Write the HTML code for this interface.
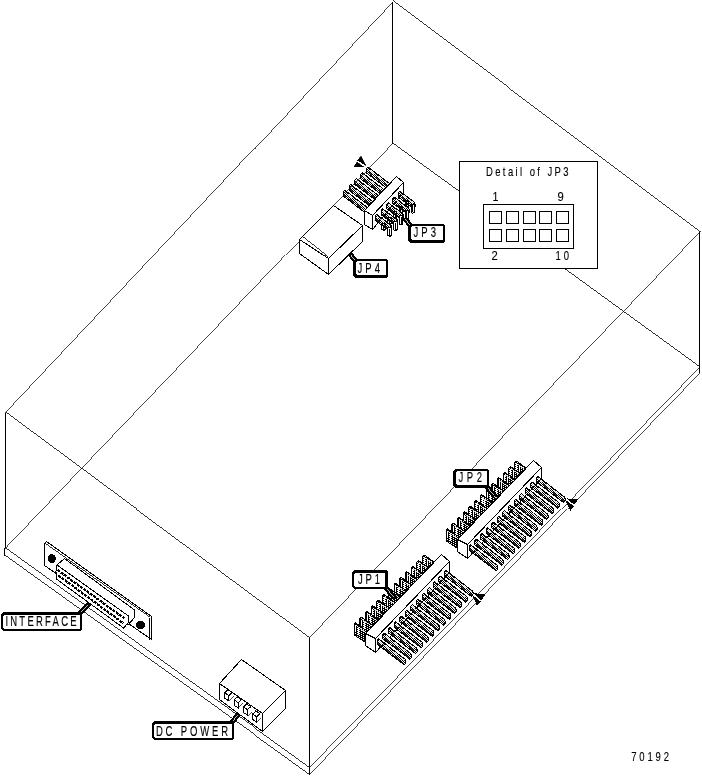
<!DOCTYPE html>
<html><head><meta charset="utf-8"><style>
html,body{margin:0;padding:0;background:#fff;}
svg{display:block;will-change:transform;}
text{font-family:"Liberation Sans",sans-serif;font-size:12.5px;fill:#000;stroke:#000;stroke-width:0.12px;}
</style></head><body>
<svg width="702" height="776" viewBox="0 0 702 776" shape-rendering="crispEdges">
<defs>
<pattern id="st" width="2" height="2" patternUnits="userSpaceOnUse"><rect x="0" y="0" width="1" height="1" fill="#000"/><rect x="1" y="1" width="1" height="1" fill="#000"/></pattern>
<pattern id="dk" width="4" height="2" patternUnits="userSpaceOnUse"><rect x="0" y="0" width="4" height="2" fill="#000"/><rect x="1" y="0" width="1" height="1" fill="#fff"/><rect x="3" y="1" width="1" height="1" fill="#fff"/></pattern>
<filter id="th" x="-10%" y="-30%" width="120%" height="160%"><feComponentTransfer><feFuncA type="discrete" tableValues="0 1"/></feComponentTransfer></filter>
</defs>
<rect width="702" height="776" fill="#fff"/>
<g stroke="#000" fill="none">
<line x1="392.5" y1="1.5" x2="5.5" y2="412.5" stroke-width="0.73"/>
<line x1="392.5" y1="0.9" x2="699.5" y2="231.1" stroke-width="0.8"/>
<line x1="5.5" y1="412.5" x2="309.5" y2="637.5" stroke-width="0.8"/>
<line x1="700.7" y1="231.1" x2="309.5" y2="637.5" stroke-width="0.72"/>
<line x1="392.5" y1="1.5" x2="392.5" y2="143.5" stroke-width="1"/>
<line x1="391.8" y1="143.5" x2="5.1" y2="548.5" stroke-width="0.72"/>
<line x1="392.5" y1="143.5" x2="699.5" y2="366.5" stroke-width="0.81"/>
<line x1="5.5" y1="548.5" x2="309.5" y2="767.5" stroke-width="0.81"/>
<line x1="4.5" y1="555.5" x2="309.5" y2="774.5" stroke-width="0.81"/>
<line x1="699.5" y1="366.5" x2="309.5" y2="767.5" stroke-width="0.72"/>
<line x1="699.5" y1="372.5" x2="309.5" y2="774.5" stroke-width="0.72"/>
<line x1="699.5" y1="231.5" x2="699.5" y2="372.5" stroke-width="1"/>
<line x1="309.5" y1="637.5" x2="309.5" y2="774.5" stroke-width="1"/>
<line x1="5.5" y1="412.5" x2="5.5" y2="547.5" stroke-width="1"/>
<line x1="4.5" y1="547.5" x2="4.5" y2="555.5" stroke-width="1"/>
<polygon points="516,460.8 528,469.3 528,481.8 514.5,472.8 514.5,462.3" fill="url(#dk)" stroke="#000" stroke-width="1"/>
<line x1="516.2" y1="463.3" x2="525.5" y2="469.8" stroke-width="0.82" stroke="#fff"/>
<line x1="516.2" y1="463.8" x2="516.2" y2="469.8" stroke-width="1" stroke="#fff"/>
<line x1="519" y1="465.8" x2="519" y2="472.8" stroke-width="1" stroke="#fff"/>
<polygon points="510.3,466.47 522.3,474.97 522.3,487.47 508.8,478.47 508.8,467.97" fill="url(#dk)" stroke="#000" stroke-width="1"/>
<line x1="510.5" y1="468.97" x2="519.8" y2="475.47" stroke-width="0.82" stroke="#fff"/>
<line x1="510.5" y1="469.47" x2="510.5" y2="475.47" stroke-width="1" stroke="#fff"/>
<line x1="513.3" y1="471.47" x2="513.3" y2="478.47" stroke-width="1" stroke="#fff"/>
<polygon points="504.6,472.14 516.6,480.64 516.6,493.14 503.1,484.14 503.1,473.64" fill="url(#dk)" stroke="#000" stroke-width="1"/>
<line x1="504.8" y1="474.64" x2="514.1" y2="481.14" stroke-width="0.82" stroke="#fff"/>
<line x1="504.8" y1="475.14" x2="504.8" y2="481.14" stroke-width="1" stroke="#fff"/>
<line x1="507.6" y1="477.14" x2="507.6" y2="484.14" stroke-width="1" stroke="#fff"/>
<polygon points="498.9,477.81 510.9,486.31 510.9,498.81 497.4,489.81 497.4,479.31" fill="url(#dk)" stroke="#000" stroke-width="1"/>
<line x1="499.1" y1="480.31" x2="508.4" y2="486.81" stroke-width="0.82" stroke="#fff"/>
<line x1="499.1" y1="480.81" x2="499.1" y2="486.81" stroke-width="1" stroke="#fff"/>
<line x1="501.9" y1="482.81" x2="501.9" y2="489.81" stroke-width="1" stroke="#fff"/>
<polygon points="493.2,483.48 505.2,491.98 505.2,504.48 491.7,495.48 491.7,484.98" fill="url(#dk)" stroke="#000" stroke-width="1"/>
<line x1="493.4" y1="485.98" x2="502.7" y2="492.48" stroke-width="0.82" stroke="#fff"/>
<line x1="493.4" y1="486.48" x2="493.4" y2="492.48" stroke-width="1" stroke="#fff"/>
<line x1="496.2" y1="488.48" x2="496.2" y2="495.48" stroke-width="1" stroke="#fff"/>
<polygon points="487.5,489.15 499.5,497.65 499.5,510.15 486,501.15 486,490.65" fill="url(#dk)" stroke="#000" stroke-width="1"/>
<line x1="487.7" y1="491.65" x2="497" y2="498.15" stroke-width="0.82" stroke="#fff"/>
<line x1="487.7" y1="492.15" x2="487.7" y2="498.15" stroke-width="1" stroke="#fff"/>
<line x1="490.5" y1="494.15" x2="490.5" y2="501.15" stroke-width="1" stroke="#fff"/>
<polygon points="481.8,494.82 493.8,503.32 493.8,515.82 480.3,506.82 480.3,496.32" fill="url(#dk)" stroke="#000" stroke-width="1"/>
<line x1="482" y1="497.32" x2="491.3" y2="503.82" stroke-width="0.82" stroke="#fff"/>
<line x1="482" y1="497.82" x2="482" y2="503.82" stroke-width="1" stroke="#fff"/>
<line x1="484.8" y1="499.82" x2="484.8" y2="506.82" stroke-width="1" stroke="#fff"/>
<polygon points="476.1,500.49 488.1,508.99 488.1,521.49 474.6,512.49 474.6,501.99" fill="url(#dk)" stroke="#000" stroke-width="1"/>
<line x1="476.3" y1="502.99" x2="485.6" y2="509.49" stroke-width="0.82" stroke="#fff"/>
<line x1="476.3" y1="503.49" x2="476.3" y2="509.49" stroke-width="1" stroke="#fff"/>
<line x1="479.1" y1="505.49" x2="479.1" y2="512.49" stroke-width="1" stroke="#fff"/>
<polygon points="470.4,506.16 482.4,514.66 482.4,527.16 468.9,518.16 468.9,507.66" fill="url(#dk)" stroke="#000" stroke-width="1"/>
<line x1="470.6" y1="508.66" x2="479.9" y2="515.16" stroke-width="0.82" stroke="#fff"/>
<line x1="470.6" y1="509.16" x2="470.6" y2="515.16" stroke-width="1" stroke="#fff"/>
<line x1="473.4" y1="511.16" x2="473.4" y2="518.16" stroke-width="1" stroke="#fff"/>
<polygon points="464.7,511.83 476.7,520.33 476.7,532.83 463.2,523.83 463.2,513.33" fill="url(#dk)" stroke="#000" stroke-width="1"/>
<line x1="464.9" y1="514.33" x2="474.2" y2="520.83" stroke-width="0.82" stroke="#fff"/>
<line x1="464.9" y1="514.83" x2="464.9" y2="520.83" stroke-width="1" stroke="#fff"/>
<line x1="467.7" y1="516.83" x2="467.7" y2="523.83" stroke-width="1" stroke="#fff"/>
<polygon points="459,517.5 471,526 471,538.5 457.5,529.5 457.5,519" fill="url(#dk)" stroke="#000" stroke-width="1"/>
<line x1="459.2" y1="520" x2="468.5" y2="526.5" stroke-width="0.82" stroke="#fff"/>
<line x1="459.2" y1="520.5" x2="459.2" y2="526.5" stroke-width="1" stroke="#fff"/>
<line x1="462" y1="522.5" x2="462" y2="529.5" stroke-width="1" stroke="#fff"/>
<polygon points="453.3,523.17 465.3,531.67 465.3,544.17 451.8,535.17 451.8,524.67" fill="url(#dk)" stroke="#000" stroke-width="1"/>
<line x1="453.5" y1="525.67" x2="462.8" y2="532.17" stroke-width="0.82" stroke="#fff"/>
<line x1="453.5" y1="526.17" x2="453.5" y2="532.17" stroke-width="1" stroke="#fff"/>
<line x1="456.3" y1="528.17" x2="456.3" y2="535.17" stroke-width="1" stroke="#fff"/>
<polygon points="447.6,528.84 459.6,537.34 459.6,549.84 446.1,540.84 446.1,530.34" fill="url(#dk)" stroke="#000" stroke-width="1"/>
<line x1="447.8" y1="531.34" x2="457.1" y2="537.84" stroke-width="0.82" stroke="#fff"/>
<line x1="447.8" y1="531.84" x2="447.8" y2="537.84" stroke-width="1" stroke="#fff"/>
<line x1="450.6" y1="533.84" x2="450.6" y2="540.84" stroke-width="1" stroke="#fff"/>
<polygon points="533.5,460.5 541.5,467.5 467.5,544.5 457.5,539.5" fill="#fff" stroke="#000" stroke-width="1"/>
<polygon points="457.5,539.5 467.5,544.5 467.5,558.5 457.5,551.5" fill="#fff" stroke="#000" stroke-width="1"/>
<polygon points="467.5,544.5 541.5,467.5 541.5,478.5 467.5,558.5" fill="#fff" stroke="#000" stroke-width="1"/>
<polygon points="536.5,478 538,476.5 564.5,497 565,498.5 565,501 563.5,502.5 536.5,482" fill="url(#st)" stroke="#000" stroke-width="1"/>
<line x1="538" y1="478.6" x2="563.5" y2="497.5" stroke-width="0.8" stroke="#fff"/>
<line x1="537.5" y1="481" x2="563.5" y2="501.5" stroke-width="0.79"/>
<polygon points="530.9,483.7 532.4,482.2 558.9,502.7 559.4,504.2 559.4,506.7 557.9,508.2 530.9,487.7" fill="url(#st)" stroke="#000" stroke-width="1"/>
<line x1="532.4" y1="484.3" x2="557.9" y2="503.2" stroke-width="0.8" stroke="#fff"/>
<line x1="531.9" y1="486.7" x2="557.9" y2="507.2" stroke-width="0.79"/>
<polygon points="525.3,489.4 526.8,487.9 553.3,508.4 553.8,509.9 553.8,512.4 552.3,513.9 525.3,493.4" fill="url(#st)" stroke="#000" stroke-width="1"/>
<line x1="526.8" y1="490" x2="552.3" y2="508.9" stroke-width="0.8" stroke="#fff"/>
<line x1="526.3" y1="492.4" x2="552.3" y2="512.9" stroke-width="0.79"/>
<polygon points="519.7,495.1 521.2,493.6 547.7,514.1 548.2,515.6 548.2,518.1 546.7,519.6 519.7,499.1" fill="url(#st)" stroke="#000" stroke-width="1"/>
<line x1="521.2" y1="495.7" x2="546.7" y2="514.6" stroke-width="0.8" stroke="#fff"/>
<line x1="520.7" y1="498.1" x2="546.7" y2="518.6" stroke-width="0.79"/>
<polygon points="514.1,500.8 515.6,499.3 542.1,519.8 542.6,521.3 542.6,523.8 541.1,525.3 514.1,504.8" fill="url(#st)" stroke="#000" stroke-width="1"/>
<line x1="515.6" y1="501.4" x2="541.1" y2="520.3" stroke-width="0.8" stroke="#fff"/>
<line x1="515.1" y1="503.8" x2="541.1" y2="524.3" stroke-width="0.79"/>
<polygon points="508.5,506.5 510,505 536.5,525.5 537,527 537,529.5 535.5,531 508.5,510.5" fill="url(#st)" stroke="#000" stroke-width="1"/>
<line x1="510" y1="507.1" x2="535.5" y2="526" stroke-width="0.8" stroke="#fff"/>
<line x1="509.5" y1="509.5" x2="535.5" y2="530" stroke-width="0.79"/>
<polygon points="502.9,512.2 504.4,510.7 530.9,531.2 531.4,532.7 531.4,535.2 529.9,536.7 502.9,516.2" fill="url(#st)" stroke="#000" stroke-width="1"/>
<line x1="504.4" y1="512.8" x2="529.9" y2="531.7" stroke-width="0.8" stroke="#fff"/>
<line x1="503.9" y1="515.2" x2="529.9" y2="535.7" stroke-width="0.79"/>
<polygon points="497.3,517.9 498.8,516.4 525.3,536.9 525.8,538.4 525.8,540.9 524.3,542.4 497.3,521.9" fill="url(#st)" stroke="#000" stroke-width="1"/>
<line x1="498.8" y1="518.5" x2="524.3" y2="537.4" stroke-width="0.8" stroke="#fff"/>
<line x1="498.3" y1="520.9" x2="524.3" y2="541.4" stroke-width="0.79"/>
<polygon points="491.7,523.6 493.2,522.1 519.7,542.6 520.2,544.1 520.2,546.6 518.7,548.1 491.7,527.6" fill="url(#st)" stroke="#000" stroke-width="1"/>
<line x1="493.2" y1="524.2" x2="518.7" y2="543.1" stroke-width="0.8" stroke="#fff"/>
<line x1="492.7" y1="526.6" x2="518.7" y2="547.1" stroke-width="0.79"/>
<polygon points="486.1,529.3 487.6,527.8 514.1,548.3 514.6,549.8 514.6,552.3 513.1,553.8 486.1,533.3" fill="url(#st)" stroke="#000" stroke-width="1"/>
<line x1="487.6" y1="529.9" x2="513.1" y2="548.8" stroke-width="0.8" stroke="#fff"/>
<line x1="487.1" y1="532.3" x2="513.1" y2="552.8" stroke-width="0.79"/>
<polygon points="480.5,535 482,533.5 508.5,554 509,555.5 509,558 507.5,559.5 480.5,539" fill="url(#st)" stroke="#000" stroke-width="1"/>
<line x1="482" y1="535.6" x2="507.5" y2="554.5" stroke-width="0.8" stroke="#fff"/>
<line x1="481.5" y1="538" x2="507.5" y2="558.5" stroke-width="0.79"/>
<polygon points="474.9,540.7 476.4,539.2 502.9,559.7 503.4,561.2 503.4,563.7 501.9,565.2 474.9,544.7" fill="url(#st)" stroke="#000" stroke-width="1"/>
<line x1="476.4" y1="541.3" x2="501.9" y2="560.2" stroke-width="0.8" stroke="#fff"/>
<line x1="475.9" y1="543.7" x2="501.9" y2="564.2" stroke-width="0.79"/>
<polygon points="469.3,546.4 470.8,544.9 497.3,565.4 497.8,566.9 497.8,569.4 496.3,570.9 469.3,550.4" fill="url(#st)" stroke="#000" stroke-width="1"/>
<line x1="470.8" y1="547" x2="496.3" y2="565.9" stroke-width="0.8" stroke="#fff"/>
<line x1="470.3" y1="549.4" x2="496.3" y2="569.9" stroke-width="0.79"/>
<polygon points="568.3,499.1 577,499.9 574.1,504" fill="#000" stroke="#000" stroke-width="1.1"/>
<polygon points="566.2,501 573,506.3 570.5,510" fill="#000" stroke="#000" stroke-width="1.1"/>
<line x1="566.5" y1="499.6" x2="574.5" y2="505.8" stroke="#fff" stroke-width="1.3"/>
<polygon points="424,554.8 436,563.3 436,575.8 422.5,566.8 422.5,556.3" fill="url(#dk)" stroke="#000" stroke-width="1"/>
<line x1="424.2" y1="557.3" x2="433.5" y2="563.8" stroke-width="0.82" stroke="#fff"/>
<line x1="424.2" y1="557.8" x2="424.2" y2="563.8" stroke-width="1" stroke="#fff"/>
<line x1="427" y1="559.8" x2="427" y2="566.8" stroke-width="1" stroke="#fff"/>
<polygon points="418.3,560.47 430.3,568.97 430.3,581.47 416.8,572.47 416.8,561.97" fill="url(#dk)" stroke="#000" stroke-width="1"/>
<line x1="418.5" y1="562.97" x2="427.8" y2="569.47" stroke-width="0.82" stroke="#fff"/>
<line x1="418.5" y1="563.47" x2="418.5" y2="569.47" stroke-width="1" stroke="#fff"/>
<line x1="421.3" y1="565.47" x2="421.3" y2="572.47" stroke-width="1" stroke="#fff"/>
<polygon points="412.6,566.14 424.6,574.64 424.6,587.14 411.1,578.14 411.1,567.64" fill="url(#dk)" stroke="#000" stroke-width="1"/>
<line x1="412.8" y1="568.64" x2="422.1" y2="575.14" stroke-width="0.82" stroke="#fff"/>
<line x1="412.8" y1="569.14" x2="412.8" y2="575.14" stroke-width="1" stroke="#fff"/>
<line x1="415.6" y1="571.14" x2="415.6" y2="578.14" stroke-width="1" stroke="#fff"/>
<polygon points="406.9,571.81 418.9,580.31 418.9,592.81 405.4,583.81 405.4,573.31" fill="url(#dk)" stroke="#000" stroke-width="1"/>
<line x1="407.1" y1="574.31" x2="416.4" y2="580.81" stroke-width="0.82" stroke="#fff"/>
<line x1="407.1" y1="574.81" x2="407.1" y2="580.81" stroke-width="1" stroke="#fff"/>
<line x1="409.9" y1="576.81" x2="409.9" y2="583.81" stroke-width="1" stroke="#fff"/>
<polygon points="401.2,577.48 413.2,585.98 413.2,598.48 399.7,589.48 399.7,578.98" fill="url(#dk)" stroke="#000" stroke-width="1"/>
<line x1="401.4" y1="579.98" x2="410.7" y2="586.48" stroke-width="0.82" stroke="#fff"/>
<line x1="401.4" y1="580.48" x2="401.4" y2="586.48" stroke-width="1" stroke="#fff"/>
<line x1="404.2" y1="582.48" x2="404.2" y2="589.48" stroke-width="1" stroke="#fff"/>
<polygon points="395.5,583.15 407.5,591.65 407.5,604.15 394,595.15 394,584.65" fill="url(#dk)" stroke="#000" stroke-width="1"/>
<line x1="395.7" y1="585.65" x2="405" y2="592.15" stroke-width="0.82" stroke="#fff"/>
<line x1="395.7" y1="586.15" x2="395.7" y2="592.15" stroke-width="1" stroke="#fff"/>
<line x1="398.5" y1="588.15" x2="398.5" y2="595.15" stroke-width="1" stroke="#fff"/>
<polygon points="389.8,588.82 401.8,597.32 401.8,609.82 388.3,600.82 388.3,590.32" fill="url(#dk)" stroke="#000" stroke-width="1"/>
<line x1="390" y1="591.32" x2="399.3" y2="597.82" stroke-width="0.82" stroke="#fff"/>
<line x1="390" y1="591.82" x2="390" y2="597.82" stroke-width="1" stroke="#fff"/>
<line x1="392.8" y1="593.82" x2="392.8" y2="600.82" stroke-width="1" stroke="#fff"/>
<polygon points="384.1,594.49 396.1,602.99 396.1,615.49 382.6,606.49 382.6,595.99" fill="url(#dk)" stroke="#000" stroke-width="1"/>
<line x1="384.3" y1="596.99" x2="393.6" y2="603.49" stroke-width="0.82" stroke="#fff"/>
<line x1="384.3" y1="597.49" x2="384.3" y2="603.49" stroke-width="1" stroke="#fff"/>
<line x1="387.1" y1="599.49" x2="387.1" y2="606.49" stroke-width="1" stroke="#fff"/>
<polygon points="378.4,600.16 390.4,608.66 390.4,621.16 376.9,612.16 376.9,601.66" fill="url(#dk)" stroke="#000" stroke-width="1"/>
<line x1="378.6" y1="602.66" x2="387.9" y2="609.16" stroke-width="0.82" stroke="#fff"/>
<line x1="378.6" y1="603.16" x2="378.6" y2="609.16" stroke-width="1" stroke="#fff"/>
<line x1="381.4" y1="605.16" x2="381.4" y2="612.16" stroke-width="1" stroke="#fff"/>
<polygon points="372.7,605.83 384.7,614.33 384.7,626.83 371.2,617.83 371.2,607.33" fill="url(#dk)" stroke="#000" stroke-width="1"/>
<line x1="372.9" y1="608.33" x2="382.2" y2="614.83" stroke-width="0.82" stroke="#fff"/>
<line x1="372.9" y1="608.83" x2="372.9" y2="614.83" stroke-width="1" stroke="#fff"/>
<line x1="375.7" y1="610.83" x2="375.7" y2="617.83" stroke-width="1" stroke="#fff"/>
<polygon points="367,611.5 379,620 379,632.5 365.5,623.5 365.5,613" fill="url(#dk)" stroke="#000" stroke-width="1"/>
<line x1="367.2" y1="614" x2="376.5" y2="620.5" stroke-width="0.82" stroke="#fff"/>
<line x1="367.2" y1="614.5" x2="367.2" y2="620.5" stroke-width="1" stroke="#fff"/>
<line x1="370" y1="616.5" x2="370" y2="623.5" stroke-width="1" stroke="#fff"/>
<polygon points="361.3,617.17 373.3,625.67 373.3,638.17 359.8,629.17 359.8,618.67" fill="url(#dk)" stroke="#000" stroke-width="1"/>
<line x1="361.5" y1="619.67" x2="370.8" y2="626.17" stroke-width="0.82" stroke="#fff"/>
<line x1="361.5" y1="620.17" x2="361.5" y2="626.17" stroke-width="1" stroke="#fff"/>
<line x1="364.3" y1="622.17" x2="364.3" y2="629.17" stroke-width="1" stroke="#fff"/>
<polygon points="355.6,622.84 367.6,631.34 367.6,643.84 354.1,634.84 354.1,624.34" fill="url(#dk)" stroke="#000" stroke-width="1"/>
<line x1="355.8" y1="625.34" x2="365.1" y2="631.84" stroke-width="0.82" stroke="#fff"/>
<line x1="355.8" y1="625.84" x2="355.8" y2="631.84" stroke-width="1" stroke="#fff"/>
<line x1="358.6" y1="627.84" x2="358.6" y2="634.84" stroke-width="1" stroke="#fff"/>
<polygon points="441.5,554.5 449.5,561.5 375.5,638.5 365.5,633.5" fill="#fff" stroke="#000" stroke-width="1"/>
<polygon points="365.5,633.5 375.5,638.5 375.5,652.5 365.5,645.5" fill="#fff" stroke="#000" stroke-width="1"/>
<polygon points="375.5,638.5 449.5,561.5 449.5,572.5 375.5,652.5" fill="#fff" stroke="#000" stroke-width="1"/>
<polygon points="444.5,572 446,570.5 472.5,591 473,592.5 473,595 471.5,596.5 444.5,576" fill="url(#st)" stroke="#000" stroke-width="1"/>
<line x1="446" y1="572.6" x2="471.5" y2="591.5" stroke-width="0.8" stroke="#fff"/>
<line x1="445.5" y1="575" x2="471.5" y2="595.5" stroke-width="0.79"/>
<polygon points="438.9,577.7 440.4,576.2 466.9,596.7 467.4,598.2 467.4,600.7 465.9,602.2 438.9,581.7" fill="url(#st)" stroke="#000" stroke-width="1"/>
<line x1="440.4" y1="578.3" x2="465.9" y2="597.2" stroke-width="0.8" stroke="#fff"/>
<line x1="439.9" y1="580.7" x2="465.9" y2="601.2" stroke-width="0.79"/>
<polygon points="433.3,583.4 434.8,581.9 461.3,602.4 461.8,603.9 461.8,606.4 460.3,607.9 433.3,587.4" fill="url(#st)" stroke="#000" stroke-width="1"/>
<line x1="434.8" y1="584" x2="460.3" y2="602.9" stroke-width="0.8" stroke="#fff"/>
<line x1="434.3" y1="586.4" x2="460.3" y2="606.9" stroke-width="0.79"/>
<polygon points="427.7,589.1 429.2,587.6 455.7,608.1 456.2,609.6 456.2,612.1 454.7,613.6 427.7,593.1" fill="url(#st)" stroke="#000" stroke-width="1"/>
<line x1="429.2" y1="589.7" x2="454.7" y2="608.6" stroke-width="0.8" stroke="#fff"/>
<line x1="428.7" y1="592.1" x2="454.7" y2="612.6" stroke-width="0.79"/>
<polygon points="422.1,594.8 423.6,593.3 450.1,613.8 450.6,615.3 450.6,617.8 449.1,619.3 422.1,598.8" fill="url(#st)" stroke="#000" stroke-width="1"/>
<line x1="423.6" y1="595.4" x2="449.1" y2="614.3" stroke-width="0.8" stroke="#fff"/>
<line x1="423.1" y1="597.8" x2="449.1" y2="618.3" stroke-width="0.79"/>
<polygon points="416.5,600.5 418,599 444.5,619.5 445,621 445,623.5 443.5,625 416.5,604.5" fill="url(#st)" stroke="#000" stroke-width="1"/>
<line x1="418" y1="601.1" x2="443.5" y2="620" stroke-width="0.8" stroke="#fff"/>
<line x1="417.5" y1="603.5" x2="443.5" y2="624" stroke-width="0.79"/>
<polygon points="410.9,606.2 412.4,604.7 438.9,625.2 439.4,626.7 439.4,629.2 437.9,630.7 410.9,610.2" fill="url(#st)" stroke="#000" stroke-width="1"/>
<line x1="412.4" y1="606.8" x2="437.9" y2="625.7" stroke-width="0.8" stroke="#fff"/>
<line x1="411.9" y1="609.2" x2="437.9" y2="629.7" stroke-width="0.79"/>
<polygon points="405.3,611.9 406.8,610.4 433.3,630.9 433.8,632.4 433.8,634.9 432.3,636.4 405.3,615.9" fill="url(#st)" stroke="#000" stroke-width="1"/>
<line x1="406.8" y1="612.5" x2="432.3" y2="631.4" stroke-width="0.8" stroke="#fff"/>
<line x1="406.3" y1="614.9" x2="432.3" y2="635.4" stroke-width="0.79"/>
<polygon points="399.7,617.6 401.2,616.1 427.7,636.6 428.2,638.1 428.2,640.6 426.7,642.1 399.7,621.6" fill="url(#st)" stroke="#000" stroke-width="1"/>
<line x1="401.2" y1="618.2" x2="426.7" y2="637.1" stroke-width="0.8" stroke="#fff"/>
<line x1="400.7" y1="620.6" x2="426.7" y2="641.1" stroke-width="0.79"/>
<polygon points="394.1,623.3 395.6,621.8 422.1,642.3 422.6,643.8 422.6,646.3 421.1,647.8 394.1,627.3" fill="url(#st)" stroke="#000" stroke-width="1"/>
<line x1="395.6" y1="623.9" x2="421.1" y2="642.8" stroke-width="0.8" stroke="#fff"/>
<line x1="395.1" y1="626.3" x2="421.1" y2="646.8" stroke-width="0.79"/>
<polygon points="388.5,629 390,627.5 416.5,648 417,649.5 417,652 415.5,653.5 388.5,633" fill="url(#st)" stroke="#000" stroke-width="1"/>
<line x1="390" y1="629.6" x2="415.5" y2="648.5" stroke-width="0.8" stroke="#fff"/>
<line x1="389.5" y1="632" x2="415.5" y2="652.5" stroke-width="0.79"/>
<polygon points="382.9,634.7 384.4,633.2 410.9,653.7 411.4,655.2 411.4,657.7 409.9,659.2 382.9,638.7" fill="url(#st)" stroke="#000" stroke-width="1"/>
<line x1="384.4" y1="635.3" x2="409.9" y2="654.2" stroke-width="0.8" stroke="#fff"/>
<line x1="383.9" y1="637.7" x2="409.9" y2="658.2" stroke-width="0.79"/>
<polygon points="377.3,640.4 378.8,638.9 405.3,659.4 405.8,660.9 405.8,663.4 404.3,664.9 377.3,644.4" fill="url(#st)" stroke="#000" stroke-width="1"/>
<line x1="378.8" y1="641" x2="404.3" y2="659.9" stroke-width="0.8" stroke="#fff"/>
<line x1="378.3" y1="643.4" x2="404.3" y2="663.9" stroke-width="0.79"/>
<polygon points="474.8,593.8 484.8,595 480.8,600" fill="#000" stroke="#000" stroke-width="1.1"/>
<polygon points="473.3,596.3 480,601.5 477.2,604.9" fill="#000" stroke="#000" stroke-width="1.1"/>
<line x1="473" y1="594.6" x2="481.5" y2="601.3" stroke="#fff" stroke-width="1.3"/>
<polygon points="333.5,205.5 362.5,225.5 328.5,258.5 299.5,239.5" fill="#fff" stroke="#000" stroke-width="1"/>
<polygon points="299.5,239.5 328.5,258.5 328.5,274.5 299.5,253.5" fill="#fff" stroke="#000" stroke-width="1"/>
<polygon points="328.5,258.5 362.5,225.5 362.5,241.5 328.5,274.5" fill="#fff" stroke="#000" stroke-width="1"/>
<line x1="302.5" y1="237.1" x2="327.5" y2="256.7" stroke-width="0.79"/>
<polygon points="366.5,168.5 368,167 390.5,184.3 391,185.8 391,188.8 389.5,190.3 366.5,173" fill="url(#st)" stroke="#000" stroke-width="1"/>
<line x1="368" y1="169.08" x2="389.5" y2="184.8" stroke-width="0.81" stroke="#fff"/>
<line x1="367.5" y1="172" x2="389.5" y2="188.3" stroke-width="0.8"/>
<polygon points="360.7,174.3 362.2,172.8 384.7,190.1 385.2,191.6 385.2,194.6 383.7,196.1 360.7,178.8" fill="url(#st)" stroke="#000" stroke-width="1"/>
<line x1="362.2" y1="174.88" x2="383.7" y2="190.6" stroke-width="0.81" stroke="#fff"/>
<line x1="361.7" y1="177.8" x2="383.7" y2="194.1" stroke-width="0.8"/>
<polygon points="354.9,180.1 356.4,178.6 378.9,195.9 379.4,197.4 379.4,200.4 377.9,201.9 354.9,184.6" fill="url(#st)" stroke="#000" stroke-width="1"/>
<line x1="356.4" y1="180.68" x2="377.9" y2="196.4" stroke-width="0.81" stroke="#fff"/>
<line x1="355.9" y1="183.6" x2="377.9" y2="199.9" stroke-width="0.8"/>
<polygon points="349.1,185.9 350.6,184.4 373.1,201.7 373.6,203.2 373.6,206.2 372.1,207.7 349.1,190.4" fill="url(#st)" stroke="#000" stroke-width="1"/>
<line x1="350.6" y1="186.48" x2="372.1" y2="202.2" stroke-width="0.81" stroke="#fff"/>
<line x1="350.1" y1="189.4" x2="372.1" y2="205.7" stroke-width="0.8"/>
<polygon points="343.3,191.7 344.8,190.2 367.3,207.5 367.8,209 367.8,212 366.3,213.5 343.3,196.2" fill="url(#st)" stroke="#000" stroke-width="1"/>
<line x1="344.8" y1="192.28" x2="366.3" y2="208" stroke-width="0.81" stroke="#fff"/>
<line x1="344.3" y1="195.2" x2="366.3" y2="211.5" stroke-width="0.8"/>
<polygon points="396.5,176.5 403.5,182.5 372.5,215.5 364.5,210.5" fill="#fff" stroke="#000" stroke-width="1"/>
<polygon points="364.5,210.5 372.5,215.5 372.5,229.5 364.5,224.5" fill="#fff" stroke="#000" stroke-width="1"/>
<polygon points="372.5,215.5 403.5,182.5 403.5,192.5 372.5,229.5" fill="#fff" stroke="#000" stroke-width="1"/>
<polygon points="405,200.3 408.5,200.3 408.5,206.3 406.75,207.3 405,206.3" fill="#fff" stroke="#000" stroke-width="1"/>
<line x1="406.75" y1="201.3" x2="406.75" y2="206.3" stroke-width="1"/>
<polygon points="398.5,192.8 400,191.3 414.5,202.3 415,203.8 415,206.8 413.5,208.3 398.5,197.3" fill="url(#st)" stroke="#000" stroke-width="1"/>
<line x1="400" y1="193.33" x2="413.5" y2="202.8" stroke-width="0.82" stroke="#fff"/>
<line x1="399.5" y1="196.3" x2="413.5" y2="207.3" stroke-width="0.79"/>
<polygon points="411,204.3 414.5,204.3 414.5,212.3 412.75,213.3 411,212.3" fill="#fff" stroke="#000" stroke-width="1"/>
<line x1="412.75" y1="205.3" x2="412.75" y2="212.3" stroke-width="1"/>
<polygon points="399.2,206.1 402.7,206.1 402.7,212.1 400.95,213.1 399.2,212.1" fill="#fff" stroke="#000" stroke-width="1"/>
<line x1="400.95" y1="207.1" x2="400.95" y2="212.1" stroke-width="1"/>
<polygon points="392.7,198.6 394.2,197.1 408.7,208.1 409.2,209.6 409.2,212.6 407.7,214.1 392.7,203.1" fill="url(#st)" stroke="#000" stroke-width="1"/>
<line x1="394.2" y1="199.13" x2="407.7" y2="208.6" stroke-width="0.82" stroke="#fff"/>
<line x1="393.7" y1="202.1" x2="407.7" y2="213.1" stroke-width="0.79"/>
<polygon points="405.2,210.1 408.7,210.1 408.7,218.1 406.95,219.1 405.2,218.1" fill="#fff" stroke="#000" stroke-width="1"/>
<line x1="406.95" y1="211.1" x2="406.95" y2="218.1" stroke-width="1"/>
<polygon points="393.4,211.9 396.9,211.9 396.9,217.9 395.15,218.9 393.4,217.9" fill="#fff" stroke="#000" stroke-width="1"/>
<line x1="395.15" y1="212.9" x2="395.15" y2="217.9" stroke-width="1"/>
<polygon points="386.9,204.4 388.4,202.9 402.9,213.9 403.4,215.4 403.4,218.4 401.9,219.9 386.9,208.9" fill="url(#st)" stroke="#000" stroke-width="1"/>
<line x1="388.4" y1="204.93" x2="401.9" y2="214.4" stroke-width="0.82" stroke="#fff"/>
<line x1="387.9" y1="207.9" x2="401.9" y2="218.9" stroke-width="0.79"/>
<polygon points="399.4,215.9 402.9,215.9 402.9,223.9 401.15,224.9 399.4,223.9" fill="#fff" stroke="#000" stroke-width="1"/>
<line x1="401.15" y1="216.9" x2="401.15" y2="223.9" stroke-width="1"/>
<polygon points="387.6,217.7 391.1,217.7 391.1,223.7 389.35,224.7 387.6,223.7" fill="#fff" stroke="#000" stroke-width="1"/>
<line x1="389.35" y1="218.7" x2="389.35" y2="223.7" stroke-width="1"/>
<polygon points="381.1,210.2 382.6,208.7 397.1,219.7 397.6,221.2 397.6,224.2 396.1,225.7 381.1,214.7" fill="url(#st)" stroke="#000" stroke-width="1"/>
<line x1="382.6" y1="210.73" x2="396.1" y2="220.2" stroke-width="0.82" stroke="#fff"/>
<line x1="382.1" y1="213.7" x2="396.1" y2="224.7" stroke-width="0.79"/>
<polygon points="393.6,221.7 397.1,221.7 397.1,229.7 395.35,230.7 393.6,229.7" fill="#fff" stroke="#000" stroke-width="1"/>
<line x1="395.35" y1="222.7" x2="395.35" y2="229.7" stroke-width="1"/>
<polygon points="381.8,223.5 385.3,223.5 385.3,229.5 383.55,230.5 381.8,229.5" fill="#fff" stroke="#000" stroke-width="1"/>
<line x1="383.55" y1="224.5" x2="383.55" y2="229.5" stroke-width="1"/>
<polygon points="375.3,216 376.8,214.5 391.3,225.5 391.8,227 391.8,230 390.3,231.5 375.3,220.5" fill="url(#st)" stroke="#000" stroke-width="1"/>
<line x1="376.8" y1="216.53" x2="390.3" y2="226" stroke-width="0.82" stroke="#fff"/>
<line x1="376.3" y1="219.5" x2="390.3" y2="230.5" stroke-width="0.79"/>
<polygon points="387.8,227.5 391.3,227.5 391.3,235.5 389.55,236.5 387.8,235.5" fill="#fff" stroke="#000" stroke-width="1"/>
<line x1="389.55" y1="228.5" x2="389.55" y2="235.5" stroke-width="1"/>
<polygon points="361,156 357.5,160.5 365.5,165.5" fill="#000" stroke="#000" stroke-width="0.6"/>
<polygon points="354,166.5 357,162 363.5,167" fill="#000" stroke="#000" stroke-width="0.6"/>
<polygon points="46.5,541.5 151.5,616.5 151.5,639.5 44.5,565.5 44.5,543.5" fill="#fff" stroke="#000" stroke-width="1"/>
<line x1="44.5" y1="543.5" x2="149.5" y2="617.5" stroke-width="0.82"/>
<line x1="149.5" y1="617.5" x2="149.5" y2="639.5" stroke-width="1"/>
<polygon points="64.5,558.5 134.5,610 134.5,617.5 128,625 57,579.5 56,571.5 57,565" fill="#fff" stroke="#000" stroke-width="1"/>
<polygon points="57,565 128.5,616 128.5,622.5 123.5,628 57,579.5 56,571.5" fill="#fff" stroke="#000" stroke-width="1"/>
<line x1="57.5" y1="570" x2="124.5" y2="618.5" stroke-width="2.2" stroke-dasharray="3 1"/>
<line x1="58.5" y1="575.5" x2="123.5" y2="623.5" stroke-width="2.2" stroke-dasharray="3 1"/>
<ellipse cx="51.7" cy="558.6" rx="4" ry="4.6" fill="#000" stroke="none"/>
<ellipse cx="140.4" cy="624.9" rx="4.6" ry="4.4" fill="#000" stroke="none"/>
<polygon points="241.5,659.5 285.5,690.5 262.5,713.5 219.5,683.5" fill="#fff" stroke="#000" stroke-width="1"/>
<polygon points="219.5,683.5 262.5,713.5 262.5,731.5 219.5,699.5" fill="#fff" stroke="#000" stroke-width="1"/>
<polygon points="262.5,713.5 285.5,690.5 285.5,708.5 262.5,731.5" fill="#fff" stroke="#000" stroke-width="1"/>
<polygon points="227.9,689.6 224.8,692.9 228.9,695.5 232.1,692.5" fill="#fff" stroke="#000" stroke-width="1"/>
<polygon points="224.8,692.9 228.9,695.5 228.9,700.9 224.8,698.2" fill="#fff" stroke="#000" stroke-width="1"/>
<line x1="228.9" y1="700.9" x2="233.5" y2="696.5" stroke-width="0.72"/>
<polygon points="237.2,696.7 234.1,700 238.2,702.6 241.4,699.6" fill="#fff" stroke="#000" stroke-width="1"/>
<polygon points="234.1,700 238.2,702.6 238.2,708 234.1,705.3" fill="#fff" stroke="#000" stroke-width="1"/>
<line x1="238.2" y1="708" x2="242.8" y2="703.6" stroke-width="0.72"/>
<polygon points="246.5,703.8 243.4,707.1 247.5,709.7 250.7,706.7" fill="#fff" stroke="#000" stroke-width="1"/>
<polygon points="243.4,707.1 247.5,709.7 247.5,715.1 243.4,712.4" fill="#fff" stroke="#000" stroke-width="1"/>
<line x1="247.5" y1="715.1" x2="252.1" y2="710.7" stroke-width="0.72"/>
<polygon points="255.8,710.9 252.7,714.2 256.8,716.8 260,713.8" fill="#fff" stroke="#000" stroke-width="1"/>
<polygon points="252.7,714.2 256.8,716.8 256.8,722.2 252.7,719.5" fill="#fff" stroke="#000" stroke-width="1"/>
<line x1="256.8" y1="722.2" x2="261.4" y2="717.8" stroke-width="0.72"/>
<line x1="404.5" y1="218" x2="411" y2="226.5" stroke-width="5" stroke="#000"/>
<line x1="405.28" y1="219.02" x2="410.35" y2="225.65" stroke-width="0.79" stroke="#fff"/>
<polygon points="410,224 443,224 445,226 445,241 443,243 410,243 408,241 408,226" fill="#000" stroke="none"/>
<polygon points="412,226 442,226 443,227 443,239 442,240 412,240 411,239 411,227" fill="#fff" stroke="none"/>
<text transform="translate(413.4,236.5) scale(0.76,1.1)" x="0" y="0" font-size="12.5" textLength="29.87" lengthAdjust="spacing">JP3</text>
<line x1="349.5" y1="253.5" x2="356.5" y2="262" stroke-width="5" stroke="#000"/>
<line x1="350.34" y1="254.52" x2="355.8" y2="261.15" stroke-width="0.77" stroke="#fff"/>
<polygon points="355,259 386,259 388,261 388,276 386,278 355,278 353,276 353,261" fill="#000" stroke="none"/>
<polygon points="357,261 385,261 386,262 386,274 385,275 357,275 356,274 356,262" fill="#fff" stroke="none"/>
<text transform="translate(357.4,272.5) scale(0.76,1.1)" x="0" y="0" font-size="12.5" textLength="29.87" lengthAdjust="spacing">JP4</text>
<line x1="484" y1="484" x2="495" y2="496" stroke-width="5" stroke="#000"/>
<line x1="485.32" y1="485.44" x2="493.9" y2="494.8" stroke-width="0.74" stroke="#fff"/>
<polygon points="455,469 487,469 489,471 489,486 487,488 455,488 453,486 453,471" fill="#000" stroke="none"/>
<polygon points="457,471 486,471 487,472 487,484 486,485 457,485 456,484 456,472" fill="#fff" stroke="none"/>
<text transform="translate(458.4,481.5) scale(0.76,1.1)" x="0" y="0" font-size="12.5" textLength="31.18" lengthAdjust="spacing">JP2</text>
<line x1="383" y1="585" x2="395" y2="598" stroke-width="5" stroke="#000"/>
<line x1="384.44" y1="586.56" x2="393.8" y2="596.7" stroke-width="0.73" stroke="#fff"/>
<polygon points="354,570 386,570 388,572 388,587 386,589 354,589 352,587 352,572" fill="#000" stroke="none"/>
<polygon points="355,573 384,573 385,574 385,586 384,587 355,587 354,586 354,574" fill="#fff" stroke="none"/>
<text transform="translate(357.9,583.5) scale(0.76,1.1)" x="0" y="0" font-size="12.5" textLength="29.21" lengthAdjust="spacing">JP1</text>
<line x1="79.5" y1="614" x2="89.5" y2="603.5" stroke-width="5" stroke="#000"/>
<line x1="80.7" y1="612.74" x2="88.5" y2="604.55" stroke-width="0.72" stroke="#fff"/>
<polygon points="3,612 80,612 82,614 82,629 80,631 3,631 1,629 1,614" fill="#000" stroke="none"/>
<polygon points="4,615 79,615 80,616 80,628 79,629 4,629 3,628 3,616" fill="#fff" stroke="none"/>
<text transform="translate(5.4,625.5) scale(0.76,1.1)" x="0" y="0" font-size="12.5" textLength="93.68" lengthAdjust="spacing">INTERFACE</text>
<line x1="231" y1="723" x2="239" y2="714" stroke-width="5" stroke="#000"/>
<line x1="231.96" y1="721.92" x2="238.2" y2="714.9" stroke-width="0.75" stroke="#fff"/>
<polygon points="154,721 232,721 234,723 234,738 232,740 154,740 152,738 152,723" fill="#000" stroke="none"/>
<polygon points="155,724 231,724 232,725 232,737 231,738 155,738 154,737 154,725" fill="#fff" stroke="none"/>
<text transform="translate(155.9,735.5) scale(0.76,1.1)" x="0" y="0" font-size="12.5" textLength="95" lengthAdjust="spacing">DC POWER</text>
<rect x="459.5" y="161.5" width="138" height="107" fill="#fff" stroke="#000"/>
<text transform="translate(485.9,175.5) scale(0.76,1.09)" x="0" y="0" font-size="12.5" textLength="108.82" lengthAdjust="spacing">Detail of JP3</text>
<rect x="483.5" y="204.5" width="90" height="44" fill="none" stroke="#000"/>
<rect x="489.5" y="211.5" width="12" height="12" fill="none" stroke="#000"/>
<rect x="489.5" y="229.5" width="12" height="12" fill="none" stroke="#000"/>
<rect x="506.5" y="211.5" width="12" height="12" fill="none" stroke="#000"/>
<rect x="506.5" y="229.5" width="12" height="12" fill="none" stroke="#000"/>
<rect x="523.5" y="211.5" width="12" height="12" fill="none" stroke="#000"/>
<rect x="523.5" y="229.5" width="12" height="12" fill="none" stroke="#000"/>
<rect x="539.5" y="211.5" width="12" height="12" fill="none" stroke="#000"/>
<rect x="539.5" y="229.5" width="12" height="12" fill="none" stroke="#000"/>
<rect x="556.5" y="211.5" width="12" height="12" fill="none" stroke="#000"/>
<rect x="556.5" y="229.5" width="12" height="12" fill="none" stroke="#000"/>
<text transform="translate(492.4,201) scale(0.85,1.0)" x="0" y="0" font-size="12.5" textLength="5.53" lengthAdjust="spacing">1</text>
<text transform="translate(557.4,201) scale(0.9,1.0)" x="0" y="0" font-size="12.5" textLength="8" lengthAdjust="spacing">9</text>
<text transform="translate(491.4,260) scale(0.9,1.0)" x="0" y="0" font-size="12.5" textLength="6.89" lengthAdjust="spacing">2</text>
<text transform="translate(555.4,260) scale(0.76,1.0)" x="0" y="0" font-size="12.5" textLength="18.03" lengthAdjust="spacing">10</text>
<text transform="translate(631.2,761) scale(0.76,1.0)" x="0" y="0" font-size="12.5" textLength="49.74" lengthAdjust="spacing">70192</text>
</g>
</svg>
</body></html>
